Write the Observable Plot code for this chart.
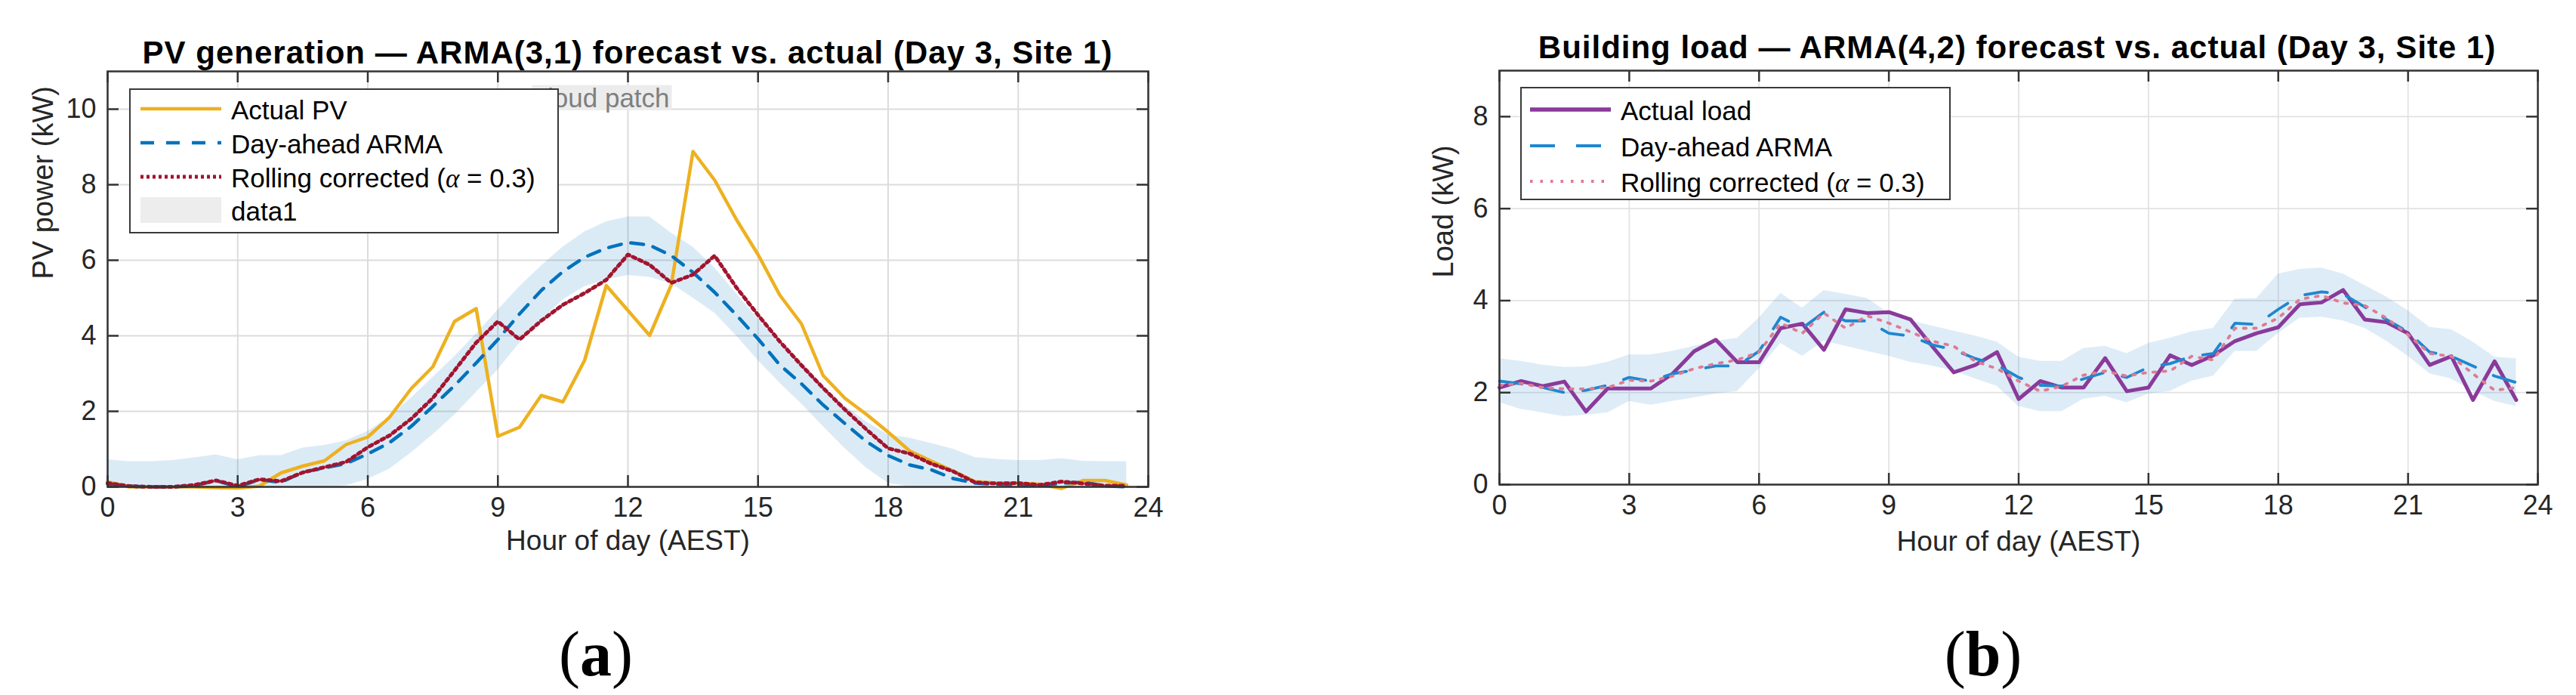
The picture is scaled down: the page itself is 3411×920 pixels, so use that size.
<!DOCTYPE html>
<html><head><meta charset="utf-8">
<script src="https://cdn.jsdelivr.net/npm/d3@7"></script>
<script src="https://cdn.jsdelivr.net/npm/@observablehq/plot@0.6"></script>
<style>
body{margin:0;background:#fff;}
#page{position:relative;width:3411px;height:920px;background:#fff;font-family:"Liberation Sans",Arial,sans-serif;overflow:hidden}
.title{position:absolute;font-weight:bold;font-size:42px;letter-spacing:1px;color:#000;white-space:nowrap;transform:translate(-50%,-50%)}
.cap{position:absolute;font-family:"Liberation Serif",serif;font-size:84px;color:#000;transform:translate(-50%,-50%)}
.cap b{font-weight:bold}
.legend{position:absolute;background:#fff;border:2.5px solid #3a3a3a;box-sizing:border-box}
.lrow{position:absolute;font-size:35px;white-space:nowrap;color:#000;transform:translateY(-50%)}
.sw{position:absolute;transform:translateY(-50%)}
.alpha{font-family:"Liberation Serif",serif;font-style:italic}
</style></head><body><div id="page"></div>
<script>
// ---------- data ----------
const hours = [0,0.5,1,1.5,2,2.5,3,3.5,4,4.5,5,5.5,6,6.5,7,7.5,8,8.5,9,9.5,10,10.5,11,11.5,12,12.5,13,13.5,14,14.5,15,15.5,16,16.5,17,17.5,18,18.5,19,19.5,20,20.5,21,21.5,22,22.5,23,23.5];
const xTicks = [0,3,6,9,12,15,18,21,24];
const pvTicks = [0,2,4,6,8,10];
const loadTicks = [0,2,4,6,8];

// Panel (a): PV generation (kW)
const pvActual  = [0.13,0.00,0.00,0.00,0.00,-0.02,-0.03,0.02,0.37,0.55,0.69,1.12,1.32,1.84,2.60,3.18,4.38,4.72,1.34,1.58,2.42,2.25,3.35,5.33,4.67,4.01,5.35,8.88,8.12,7.08,6.15,5.08,4.32,2.95,2.35,1.92,1.45,0.95,0.68,0.42,0.14,0.10,0.10,0.07,-0.04,0.17,0.17,0.05];
const pvArma    = [0.08,0.02,0.00,0.00,0.03,0.17,0.00,0.19,0.12,0.39,0.50,0.62,0.87,1.17,1.60,2.13,2.68,3.28,3.90,4.58,5.20,5.70,6.08,6.32,6.47,6.40,6.12,5.68,5.15,4.55,3.92,3.23,2.73,2.17,1.68,1.20,0.83,0.58,0.45,0.22,0.10,0.07,0.05,0.03,0.10,0.12,0.03,0.00];
const pvRolling = [0.10,0.02,0.00,0.00,0.05,0.17,0.03,0.20,0.15,0.38,0.52,0.66,1.05,1.36,1.80,2.35,3.08,3.82,4.38,3.90,4.40,4.82,5.13,5.48,6.15,5.88,5.40,5.62,6.12,5.28,4.55,3.85,3.22,2.62,2.05,1.52,1.02,0.88,0.61,0.41,0.12,0.09,0.10,0.05,0.14,0.09,0.03,0.03];
const pvBandHi  = [0.72,0.67,0.67,0.70,0.77,0.85,0.72,0.83,0.83,1.03,1.10,1.22,1.47,1.85,2.35,2.90,3.45,4.05,4.68,5.30,5.85,6.35,6.75,7.02,7.15,7.15,6.72,6.35,5.80,5.12,4.45,3.80,3.20,2.65,2.15,1.72,1.38,1.29,1.15,1.00,0.78,0.73,0.70,0.70,0.75,0.68,0.67,0.67];
const pvBandLo  = [0,0,0,0,0,0,0,0,0,0,0,0.03,0.20,0.47,0.90,1.38,1.90,2.50,3.10,3.80,4.40,4.95,5.30,5.48,5.60,5.55,5.38,5.00,4.60,4.00,3.35,2.75,2.20,1.60,1.02,0.50,0.10,0,0,0,0,0,0,0,0,0,0,0];
const pvNote = [{hour: 11.4, kw: 10.28, label: "cloud patch"}];

// Panel (b): building load (kW)
const loadActual  = [2.11,2.25,2.14,2.24,1.59,2.09,2.09,2.09,2.41,2.90,3.15,2.66,2.66,3.40,3.50,2.93,3.81,3.73,3.75,3.59,3.01,2.44,2.60,2.88,1.86,2.25,2.11,2.11,2.75,2.03,2.11,2.81,2.60,2.81,3.12,3.29,3.42,3.92,3.96,4.23,3.59,3.53,3.29,2.60,2.79,1.84,2.68,1.84];
const loadArma    = [2.25,2.19,2.11,2.00,2.05,2.16,2.33,2.25,2.41,2.49,2.58,2.58,2.90,3.64,3.40,3.75,3.56,3.56,3.29,3.23,3.04,2.93,2.74,2.60,2.33,2.16,2.14,2.30,2.44,2.33,2.55,2.63,2.79,2.85,3.51,3.48,3.81,4.11,4.19,4.14,3.86,3.59,3.32,2.88,2.79,2.58,2.36,2.22];
const loadRolling = [2.16,2.20,2.11,2.08,2.08,2.11,2.27,2.25,2.36,2.52,2.63,2.71,2.88,3.51,3.29,3.73,3.40,3.67,3.51,3.32,3.12,3.01,2.68,2.52,2.25,2.03,2.14,2.38,2.47,2.36,2.44,2.47,2.79,2.71,3.40,3.40,3.62,4.03,4.11,3.95,3.89,3.62,3.26,2.85,2.79,2.41,2.05,2.11];
const loadBandHi  = [2.74,2.68,2.60,2.55,2.56,2.66,2.82,2.82,2.90,3.01,3.12,3.18,3.62,4.16,3.84,4.22,4.14,4.05,3.73,3.56,3.45,3.34,3.23,3.10,2.77,2.68,2.68,2.96,3.01,2.85,3.07,3.18,3.32,3.40,4.03,4.05,4.58,4.68,4.71,4.58,4.33,4.08,3.78,3.42,3.37,3.10,2.77,2.74];
const loadBandLo  = [1.78,1.64,1.56,1.48,1.51,1.56,1.81,1.73,1.81,1.89,1.97,2.03,2.52,3.07,2.79,3.12,3.01,2.90,2.79,2.66,2.58,2.47,2.30,2.14,1.70,1.59,1.59,1.86,1.92,1.78,1.97,2.03,2.25,2.36,2.90,2.90,3.29,3.62,3.64,3.56,3.40,3.12,2.79,2.41,2.30,2.03,1.81,1.70];

// ---------- build ----------
const page = document.getElementById("page");
const FONT = '"Liberation Sans", Arial, sans-serif';

function panel(o) {
  const rows = hours.map((h, i) => ({hour: h, actual: o.actual[i], arma: o.arma[i], rolling: o.rolling[i], lo: o.lo[i], hi: o.hi[i]}));
  const fw = o.width - o.ml - o.mr, fh = o.height - o.mt - o.mb;
  const tk = 15;
  const marks = [
    Plot.ruleX(xTicks, {x: d => d, stroke: o.grid, strokeWidth: o.gridW}),
    Plot.ruleY(o.yTicks, {y: d => d, stroke: o.grid, strokeWidth: o.gridW}),
    Plot.areaY(rows, {x: "hour", y1: "lo", y2: "hi", fill: o.band, fillOpacity: o.bandOp}),
  ];
  if (o.note) marks.push(Plot.text(o.note, {x: "hour", y: "kw", text: "label", fill: "#7f7f7f", fontSize: 35}));
  marks.push(
    Plot.line(rows, {x: "hour", y: "actual", stroke: o.cActual, strokeWidth: o.wActual}),
    Plot.line(rows, {x: "hour", y: "arma", stroke: o.cArma, strokeWidth: o.wArma, strokeDasharray: o.dArma}),
    Plot.line(rows, {x: "hour", y: "rolling", stroke: o.cRoll, strokeWidth: o.wRoll, strokeDasharray: o.dRoll}),
    Plot.ruleX(xTicks, {x: d => d, stroke: "#333", strokeWidth: 2.5, insetTop: fh - tk}),
    Plot.ruleX(xTicks, {x: d => d, stroke: "#333", strokeWidth: 2.5, insetBottom: fh - tk}),
    Plot.ruleY(o.yTicks, {y: d => d, stroke: "#333", strokeWidth: 2.5, insetRight: fw - tk}),
    Plot.ruleY(o.yTicks, {y: d => d, stroke: "#333", strokeWidth: 2.5, insetLeft: fw - tk}),
    Plot.frame({stroke: "#333", strokeWidth: 2.5}),
    Plot.axisX({ticks: xTicks, tickSize: 0, tickPadding: 14, label: null, fontSize: 36}),
    Plot.axisY({ticks: o.yTicks, tickSize: 0, tickPadding: 15, label: null, fontSize: 36}),
    Plot.text([o.xLabel], {text: d => d, frameAnchor: "bottom", dy: o.xLabelDy, fontSize: 37, fill: "#262626"}),
    Plot.text([o.yLabel], {text: d => d, frameAnchor: "left", dx: o.yLabelDx, rotate: -90, fontSize: 38, fill: "#262626"})
  );
  const svg = Plot.plot({
    width: o.width, height: o.height,
    marginLeft: o.ml, marginRight: o.mr, marginTop: o.mt, marginBottom: o.mb,
    x: {domain: [0, 24]}, y: {domain: o.yDomain},
    style: {fontFamily: FONT, fontSize: "36px", color: "#262626", background: "transparent", overflow: "visible"},
    marks
  });
  svg.style.position = "absolute";
  svg.style.left = o.left + "px";
  svg.style.top = o.top + "px";
  page.appendChild(svg);
  // grey background box behind the annotation text
  if (o.note) {
    svg.querySelectorAll("text").forEach(t => {
      if (t.textContent === o.note[0].label) {
        const b = t.getBBox();
        const tr = t.getAttribute("transform") || "";
        const r = document.createElementNS("http://www.w3.org/2000/svg", "rect");
        r.setAttribute("x", b.x - 3); r.setAttribute("y", b.y + 3);
        r.setAttribute("width", b.width + 6); r.setAttribute("height", b.height - 6);
        r.setAttribute("fill", "#ececec");
        if (tr) r.setAttribute("transform", tr);
        t.parentNode.insertBefore(r, t);
      }
    });
  }
}

panel({
  left: 0, top: 0, width: 1600, height: 780, ml: 142, mr: 80, mt: 94, mb: 136,
  yDomain: [0, 11], yTicks: pvTicks,
  actual: pvActual, arma: pvArma, rolling: pvRolling, lo: pvBandLo, hi: pvBandHi, note: pvNote,
  grid: "#dcdcdc", gridW: 2, band: "#0072BD", bandOp: 0.14,
  cActual: "#EDB120", wActual: 4.5, cArma: "#0072BD", wArma: 4.5, dArma: "17,13",
  cRoll: "#A2142F", wRoll: 5, dRoll: "4,5",
  xLabel: "Hour of day (AEST)", yLabel: "PV power (kW)", xLabelDy: 83, yLabelDx: -85
});
panel({
  left: 1800, top: 0, width: 1611, height: 780, ml: 185, mr: 51, mt: 93, mb: 139,
  yDomain: [0, 9], yTicks: loadTicks,
  actual: loadActual, arma: loadArma, rolling: loadRolling, lo: loadBandLo, hi: loadBandHi, note: null,
  grid: "#e2e2e2", gridW: 1.8, band: "#3a8fd0", bandOp: 0.17,
  cActual: "#8a3a9a", wActual: 5, cArma: "#1f87cf", wArma: 3.8, dArma: "30,26",
  cRoll: "#e07a92", wRoll: 3.8, dRoll: "3.5,10",
  xLabel: "Hour of day (AEST)", yLabel: "Load (kW)", xLabelDy: 87, yLabelDx: -74
});

// titles & captions
function addDiv(cls, html, x, y) {
  const d = document.createElement("div");
  d.className = cls; d.innerHTML = html;
  d.style.left = x + "px"; d.style.top = y + "px";
  page.appendChild(d);
  return d;
}
addDiv("title", "PV generation — ARMA(3,1) forecast vs. actual (Day 3, Site 1)", 831, 70);
addDiv("title", "Building load — ARMA(4,2) forecast vs. actual (Day 3, Site 1)", 2671, 63);
addDiv("cap", "(<b>a</b>)", 789, 865);
addDiv("cap", "(<b>b</b>)", 2626, 865);

// legends
function swatchLine(color, w, dash) {
  return `<svg width="107" height="36"><line x1="0" y1="18" x2="107" y2="18" stroke="${color}" stroke-width="${w}" ${dash ? `stroke-dasharray="${dash}"` : ""}/></svg>`;
}
function legend(box, items) {
  const L = document.createElement("div");
  L.className = "legend";
  Object.assign(L.style, {left: box.x + "px", top: box.y + "px", width: box.w + "px", height: box.h + "px"});
  items.forEach(it => {
    const s = document.createElement("div");
    s.className = "sw"; s.style.left = box.sx + "px"; s.style.top = it.y + "px";
    s.innerHTML = it.swatch;
    L.appendChild(s);
    const t = document.createElement("div");
    t.className = "lrow"; t.style.left = box.tx + "px"; t.style.top = it.y + "px";
    t.innerHTML = it.label;
    L.appendChild(t);
  });
  page.appendChild(L);
}
const alphaLabel = 'Rolling corrected (<span class="alpha">α</span> = 0.3)';
legend({x: 171, y: 117, w: 569, h: 192, sx: 13, tx: 133}, [
  {y: 27, label: "Actual PV", swatch: swatchLine("#EDB120", 4.5)},
  {y: 72, label: "Day-ahead ARMA", swatch: swatchLine("#0072BD", 4.5, "18,16")},
  {y: 117, label: alphaLabel, swatch: swatchLine("#A2142F", 5, "4,4")},
  {y: 161, label: "data1", swatch: `<svg width="107" height="34"><rect x="0" y="0" width="107" height="34" fill="#ededed"/></svg>`}
]);
legend({x: 2013, y: 115, w: 570, h: 150, sx: 11, tx: 131}, [
  {y: 30, label: "Actual load", swatch: swatchLine("#8a3a9a", 5.5)},
  {y: 78, label: "Day-ahead ARMA", swatch: swatchLine("#1f87cf", 4, "33,28")},
  {y: 125, label: alphaLabel, swatch: swatchLine("#e07a92", 4, "3.5,10")}
]);
</script></body></html>
